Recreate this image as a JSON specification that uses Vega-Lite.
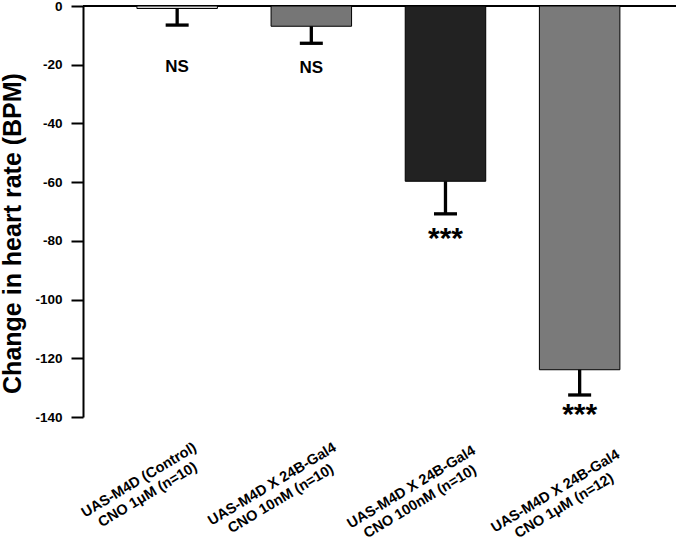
{
  "$schema": "https://vega.github.io/schema/vega-lite/v6.json",
  "width": 593,
  "height": 411,
  "autosize": {"type": "none"},
  "padding": {"left": 83, "top": 6, "right": 0, "bottom": 124},
  "background": "white",
  "config": {"view": {"stroke": null}, "font": "Liberation Sans"},
  "data": {"values": [
    {"g": "g1", "mean": -0.85, "err": -6.5, "sig": "NS", "sigy": -20.7},
    {"g": "g2", "mean": -6.9, "err": -12.7, "sig": "NS", "sigy": -21.1},
    {"g": "g3", "mean": -59.7, "err": -70.8, "sig": "***", "sigy": -79.5},
    {"g": "g4", "mean": -123.9, "err": -132.5, "sig": "***", "sigy": -139.2}
  ]},
  "encoding": {
    "x": {
      "field": "g", "type": "nominal", "sort": null,
      "scale": {"paddingInner": 0.4, "paddingOuter": 0.41, "align": 0.49},
      "axis": {
        "orient": "bottom", "domain": false, "ticks": false, "title": null,
        "labelExpr": "split(datum.value == 'g1' ? 'UAS-M4D (Control)|CNO 1μM (n=10)' : datum.value == 'g2' ? 'UAS-M4D X 24B-Gal4|CNO 10nM (n=10)' : datum.value == 'g3' ? 'UAS-M4D X 24B-Gal4|CNO 100nM (n=10)' : 'UAS-M4D X 24B-Gal4|CNO 1μM (n=12)', '|')",
        "labelAngle": -31, "labelAlign": "center", "labelBaseline": "middle",
        "labelFontSize": 14.5, "labelFontWeight": "bold", "labelColor": "black",
        "labelLineHeight": 17, "labelOverlap": false, "labelLimit": 0,
        "labelOffset": {"condition": [
          {"test": "datum.value == 'g1'", "value": -38},
          {"test": "datum.value == 'g2'", "value": -39},
          {"test": "datum.value == 'g3'", "value": -34}
        ], "value": -24},
        "labelPadding": {"condition": [
          {"test": "datum.value == 'g1'", "value": 63},
          {"test": "datum.value == 'g2'", "value": 67},
          {"test": "datum.value == 'g3'", "value": 70}
        ], "value": 74}
      }
    }
  },
  "layer": [
    {
      "mark": {"type": "rule", "color": "black", "strokeWidth": 1.5},
      "encoding": {"y": {"datum": 0, "type": "quantitative"}, "x": null}
    },
    {
      "mark": {"type": "bar", "stroke": "black", "strokeWidth": 1},
      "encoding": {
        "y": {
          "field": "mean", "type": "quantitative",
          "scale": {"domain": [-140, 0], "nice": false},
          "axis": {
            "orient": "left", "values": [0, -20, -40, -60, -80, -100, -120, -140],
            "labelExpr": "'' + datum.value", "grid": false,
            "domainColor": "black", "domainWidth": 2,
            "tickColor": "black", "tickWidth": 2, "tickSize": 12,
            "labelFontSize": 13.5, "labelFontWeight": "bold", "labelColor": "black", "labelPadding": 9,
            "title": "Change in heart rate (BPM)", "titleFontSize": 25, "titleFontWeight": "bold",
            "titleColor": "black", "titleY": 227, "titleX": -58, "titleAlign": "center"
          }
        },
        "color": {
          "field": "g", "type": "nominal", "legend": null,
          "scale": {"domain": ["g1", "g2", "g3", "g4"], "range": ["#dcdcdc", "#767676", "#222222", "#7a7a7a"]}
        }
      }
    },
    {
      "mark": {"type": "rule", "color": "black", "strokeWidth": 3.3},
      "encoding": {"y": {"field": "mean", "type": "quantitative"}, "y2": {"field": "err"}}
    },
    {
      "mark": {"type": "tick", "color": "black", "thickness": 3.3, "size": 23, "opacity": 1},
      "encoding": {"y": {"field": "err", "type": "quantitative"}}
    },
    {
      "transform": [{"filter": "datum.sig == 'NS'"}],
      "mark": {"type": "text", "fontSize": 17, "fontWeight": "bold", "color": "black", "baseline": "middle"},
      "encoding": {"y": {"field": "sigy", "type": "quantitative"}, "text": {"field": "sig"}}
    },
    {
      "transform": [{"filter": "datum.sig == '***'"}],
      "mark": {"type": "text", "fontSize": 30, "fontWeight": "bold", "color": "black", "baseline": "middle"},
      "encoding": {"y": {"field": "sigy", "type": "quantitative"}, "text": {"field": "sig"}}
    }
  ]
}
